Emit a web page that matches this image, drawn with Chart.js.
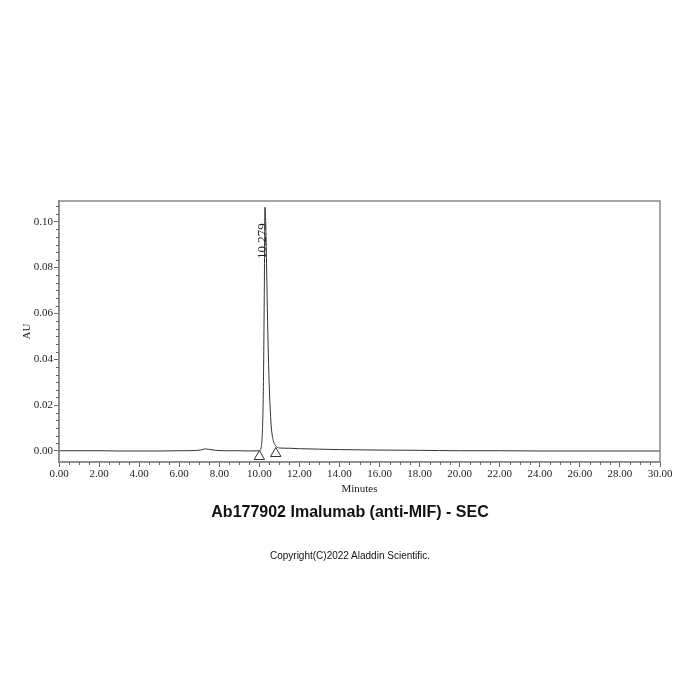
<!DOCTYPE html>
<html>
<head>
<meta charset="utf-8">
<script src="https://cdn.jsdelivr.net/npm/chart.js@4.4.1/dist/chart.umd.min.js"></script>
<style>
  body { margin: 0; background: #fff; }
  #wrap { position: relative; width: 700px; height: 700px; }
  #graph { position: absolute; left: 0; top: 0; }
  .txt { position: absolute; left: 0; width: 700px; text-align: center; color: #111; font-family: "Liberation Sans", Arial, sans-serif; }
  #title { top: 503px; font-size: 16px; font-weight: bold; }
  #copy { top: 550px; font-size: 10px; }
</style>
</head>
<body>
<div id="wrap">
  <canvas id="graph" width="700" height="700"></canvas>
  <div class="txt" id="title">Ab177902 Imalumab (anti-MIF) - SEC</div>
  <div class="txt" id="copy">Copyright(C)2022 Aladdin Scientific.</div>
</div>
<script>
// retention time (min) and absorbance (AU)
const times = [0, 1, 2, 3, 4, 5, 6, 6.8, 7.1, 7.3, 7.5, 7.8, 8.5, 9.0, 9.5, 9.9,
  10.0, 10.05, 10.1, 10.15, 10.2, 10.25, 10.279, 10.32, 10.36, 10.4, 10.45, 10.5, 10.55,
  10.6, 10.7, 10.8, 10.9, 11.0, 11.5, 12, 13, 14, 16, 18, 20, 22, 24, 26, 28, 30];
const absorbance = [0.0001, 0.0001, 0.0001, 0.0000, 0.0000, 0.0000, 0.0001, 0.0002, 0.0005, 0.0009, 0.0007, 0.0003, 0.0001, 0.0001, 0.0000, 0.0001,
  0.0001, 0.0004, 0.002, 0.008, 0.026, 0.072, 0.1063, 0.099, 0.082, 0.062, 0.042, 0.027, 0.017,
  0.010, 0.0045, 0.0024, 0.0016, 0.0013, 0.0012, 0.0010, 0.0008, 0.0006, 0.0004, 0.0003, 0.0001, 0.0001, 0.0000, 0.0000, 0.0000, 0.0000];

// peak start / end markers
const markerTimes = [10.00, 10.82];
const markerValues = [-0.0024, -0.0011];

const peakTime = 10.279;
const peakLabel = '10.279';

// tick labels
const xTicks = [0, 2, 4, 6, 8, 10, 12, 14, 16, 18, 20, 22, 24, 26, 28, 30];
const yTicks = [0, 0.02, 0.04, 0.06, 0.08, 0.10];

const serif = '"Liberation Serif", "DejaVu Serif", serif';
const boxColor = '#8a8a8a';

// frame round the plot, short minor ticks and the rotated peak label
const extras = {
  id: 'extras',
  afterDraw(chart) {
    const ctx = chart.ctx;
    const a = chart.chartArea;
    const sx = chart.scales.x;
    const sy = chart.scales.y;
    ctx.save();
    ctx.strokeStyle = boxColor;
    ctx.lineWidth = 1.5;
    ctx.strokeRect(a.left, a.top, a.right - a.left, a.bottom - a.top);

    ctx.strokeStyle = '#666';
    ctx.lineWidth = 1;
    ctx.beginPath();
    // x: minor every 0.5 min
    for (let i = 0; i <= 60; i++) {
      if (i % 4 === 0) continue;
      const px = Math.round(sx.getPixelForValue(i * 0.5)) + 0.5;
      ctx.moveTo(px, a.bottom);
      ctx.lineTo(px, a.bottom + 3);
    }
    // y: five minor ticks between labels
    for (let i = 1; i <= 32; i++) {
      if (i % 6 === 0) continue;
      const py = Math.round(sy.getPixelForValue(i * 0.02 / 6)) + 0.5;
      ctx.moveTo(a.left, py);
      ctx.lineTo(a.left - 3, py);
    }
    ctx.stroke();

    ctx.translate(sx.getPixelForValue(peakTime) - 2, sy.getPixelForValue(0.0915));
    ctx.rotate(-Math.PI / 2);
    ctx.fillStyle = '#222';
    ctx.font = '13px ' + serif;
    ctx.textAlign = 'center';
    ctx.textBaseline = 'middle';
    ctx.fillText(peakLabel, 0, 0);
    ctx.restore();
  }
};

const trace = times.map((t, i) => ({ x: t, y: absorbance[i] }));
const markers = markerTimes.map((t, i) => ({ x: t, y: markerValues[i] }));

new Chart(document.getElementById('graph'), {
  type: 'line',
  data: {
    datasets: [{
      data: trace,
      borderColor: '#333',
      borderWidth: 1,
      pointRadius: 0,
      cubicInterpolationMode: 'monotone'
    }, {
      type: 'scatter',
      data: markers,
      pointStyle: 'triangle',
      pointRadius: 6,
      backgroundColor: '#fff',
      borderColor: '#333',
      borderWidth: 1
    }]
  },
  options: {
    responsive: false,
    animation: false,
    layout: { padding: { top: 201, right: 40, bottom: 203, left: 0 } },
    plugins: { legend: { display: false }, tooltip: { enabled: false } },
    scales: {
      x: {
        type: 'linear',
        min: 0,
        max: 30,
        afterFit: s => { s.height = 35; },
        afterBuildTicks: s => { s.ticks = xTicks.map(v => ({ value: v })); },
        grid: { drawOnChartArea: false, tickLength: 5, color: '#666' },
        border: { color: boxColor, width: 1.5 },
        ticks: {
          maxRotation: 0,
          autoSkip: false,
          padding: 1,
          color: '#222',
          font: { family: serif, size: 11 },
          callback: v => v.toFixed(2)
        },
        title: {
          display: true,
          text: 'Minutes',
          color: '#222',
          font: { family: serif, size: 11 },
          padding: { top: 0, bottom: 1 }
        }
      },
      y: {
        min: -0.0048,
        max: 0.109,
        afterFit: s => { s.width = 59; },
        afterBuildTicks: s => { s.ticks = yTicks.map(v => ({ value: v })); },
        grid: { drawOnChartArea: false, tickLength: 5, color: '#666' },
        border: { color: boxColor, width: 1.5 },
        ticks: {
          padding: 1,
          color: '#222',
          font: { family: serif, size: 11 },
          callback: v => v.toFixed(2)
        },
        title: {
          display: true,
          text: 'AU',
          color: '#222',
          font: { family: serif, size: 11 },
          padding: { top: 21, bottom: 0 }
        }
      }
    }
  },
  plugins: [extras]
});
</script>
</body>
</html>
